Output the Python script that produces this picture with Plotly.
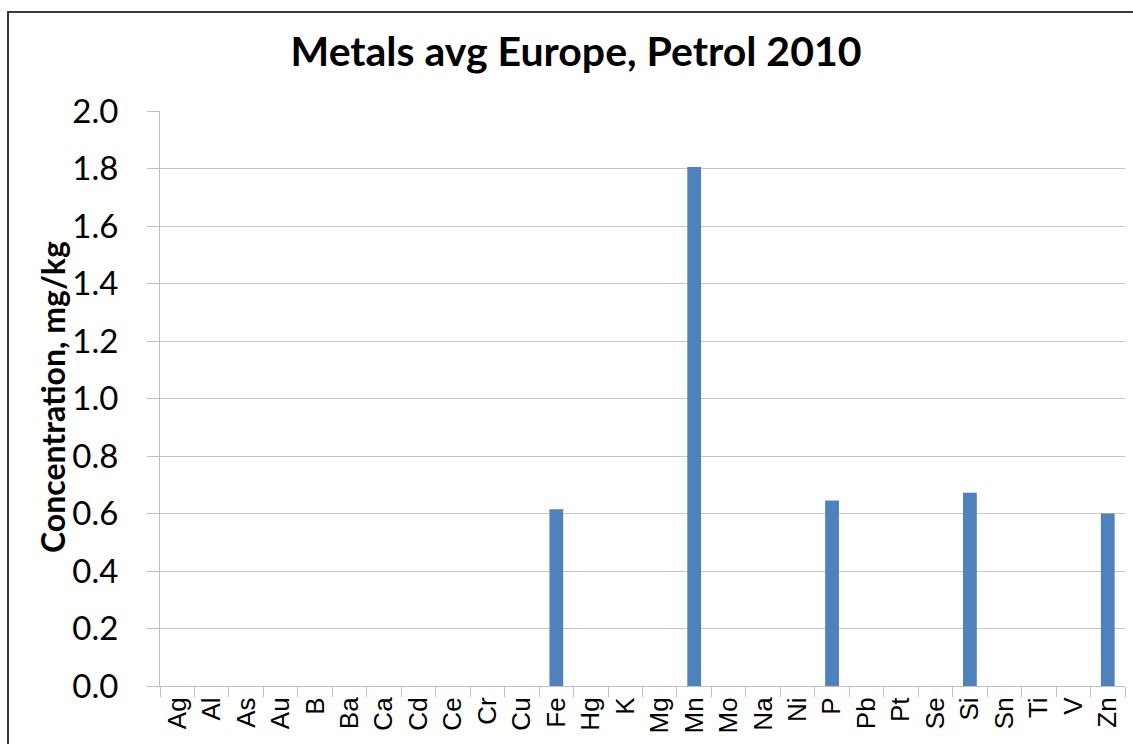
import plotly.graph_objects as go

elements = ["Ag", "Al", "As", "Au", "B", "Ba", "Ca", "Cd", "Ce", "Cr", "Cu", "Fe", "Hg", "K",
            "Mg", "Mn", "Mo", "Na", "Ni", "P", "Pb", "Pt", "Se", "Si", "Sn", "Ti", "V", "Zn"]
concentration = [0, 0, 0, 0, 0, 0, 0, 0, 0, 0, 0, 0.615, 0, 0,
                 0, 1.805, 0, 0, 0, 0.645, 0, 0, 0, 0.672, 0, 0, 0, 0.60]
y_ticks = [0.0, 0.2, 0.4, 0.6, 0.8, 1.0, 1.2, 1.4, 1.6, 1.8, 2.0]
y_tick_labels = [f"{v:.1f}" for v in y_ticks]

W, H = 1133, 744
L, R, T, B = 160, 8, 111, 58
pw, ph = W - L - R, H - T - B

fig = go.Figure()
fig.add_trace(go.Bar(x=elements, y=concentration, marker_color="#4F81BD",
                     marker_line_width=0))

def px_x(p):
    return (p - L) / pw

def px_y(p):
    return (H - B - p) / ph

fig.update_layout(
    width=W, height=H,
    margin=dict(l=L, r=R, t=T, b=B, autoexpand=False),
    paper_bgcolor="white", plot_bgcolor="white",
    bargap=0.6,
    showlegend=False,
    title=dict(text="<b>Metals avg Europe, Petrol 2010</b>",
               font=dict(family="Lato", size=41, color="black"),
               x=576 / W, xanchor="center", y=1 - 52 / H, yanchor="middle",
               xref="container", yref="container"),
    xaxis=dict(type="category", tickson="boundaries", ticks="outside", ticklen=10,
               tickcolor="#BFBFBF", showline=True, linecolor="#BFBFBF", linewidth=1,
               showgrid=False, tickangle=-90,
               tickfont=dict(family="Liberation Sans", size=26, color="black"),
               range=[-0.5, len(elements) - 0.5]),
    yaxis=dict(range=[0, 2.0], tickvals=y_ticks, ticktext=y_tick_labels,
               ticks="outside", ticklen=12, tickcolor="#BFBFBF",
               showline=True, linecolor="#BFBFBF", linewidth=1,
               showgrid=True, gridcolor="#C8C8C8", gridwidth=1,
               zeroline=False, ticklabelstandoff=22,
               tickfont=dict(family="Lato", size=33, color="black")),
    annotations=[dict(text="<b>Concentration, mg/kg</b>", textangle=-90,
                      xref="paper", yref="paper", x=px_x(52), y=px_y(397),
                      xanchor="center", yanchor="middle", showarrow=False,
                      font=dict(family="Lato", size=32, color="black"))],
    shapes=[dict(type="rect", xref="paper", yref="paper",
                 x0=px_x(8), x1=px_x(1145), y0=px_y(760), y1=px_y(12),
                 line=dict(color="#3A3A3A", width=2), fillcolor="rgba(0,0,0,0)",
                 layer="above")],
)

fig.write_html("out.html")
